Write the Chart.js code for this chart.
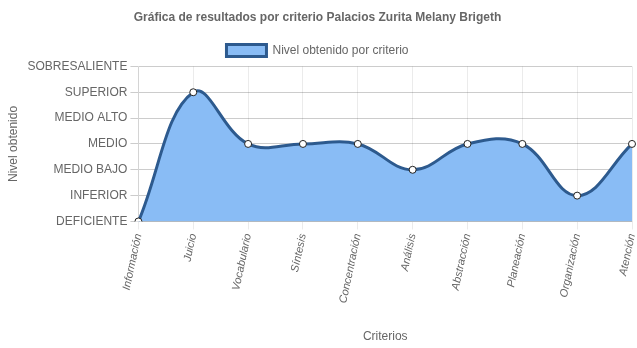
<!DOCTYPE html>
<html><head><meta charset="utf-8">
<script src="https://cdn.jsdelivr.net/npm/chart.js@4"></script>
<style>html,body{margin:0;padding:0;background:#fff}#w{width:637px;height:348px}</style>
</head><body><div id="w"><canvas id="c"></canvas></div>
<script>
const categories = ["Información","Juicio","Vocabulario","Síntesis","Concentración","Análisis","Abstracción","Planeación","Organización","Atención"];
const levels = ["DEFICIENTE","INFERIOR","MEDIO BAJO","MEDIO","MEDIO ALTO","SUPERIOR","SOBRESALIENTE"];
const values = [0,5,3,3,3,2,3,3,1,3];

Chart.defaults.font.family = "'Liberation Sans', Arial, sans-serif";
Chart.defaults.color = '#666';
new Chart(document.getElementById('c'), {
  type: 'line',
  data: { labels: categories, datasets: [{
    label: 'Nivel obtenido por criterio',
    data: values,
    fill: true,
    backgroundColor: '#89bcf5',
    borderColor: '#2d5a8e',
    borderWidth: 3,
    tension: 0.4,
    pointRadius: 3.5,
    pointBackgroundColor: '#fff',
    pointBorderColor: '#222',
    pointBorderWidth: 1
  }]},
  options: {
    responsive: true, maintainAspectRatio: false, animation: false,
    layout: { padding: { left: 2, right: 4, top: 0, bottom: 4 } },
    plugins: {
      title: { display: true, text: 'Gráfica de resultados por criterio Palacios Zurita Melany Brigeth', font: { size: 12, weight: 'bold' }, color: '#666', padding: { top: 10, bottom: 10 } },
      legend: { labels: { boxWidth: 40, font: { size: 12 }, color: '#666' } },
      tooltip: { enabled: false }
    },
    scales: {
      x: {
        afterFit: s => { s.paddingRight = 0; s.paddingLeft = 0; },
        grid: { color: 'rgba(0,0,0,0.08)', tickLength: 8 },
        ticks: { minRotation: 78, maxRotation: 78, font: { size: 11, style: 'italic' }, color: '#666' },
        title: { display: true, text: 'Criterios', font: { size: 12 }, color: '#666', padding: { top: 22, bottom: 0 } }
      },
      y: {
        min: 0, max: 6,
        grid: { color: 'rgba(0,0,0,0.2)', tickLength: 8 },
        ticks: { stepSize: 1, font: { size: 12 }, color: '#666', callback: v => levels[v] },
        title: { display: true, text: 'Nivel obtenido', font: { size: 12 }, color: '#666' }
      }
    }
  }
});
</script></body></html>
